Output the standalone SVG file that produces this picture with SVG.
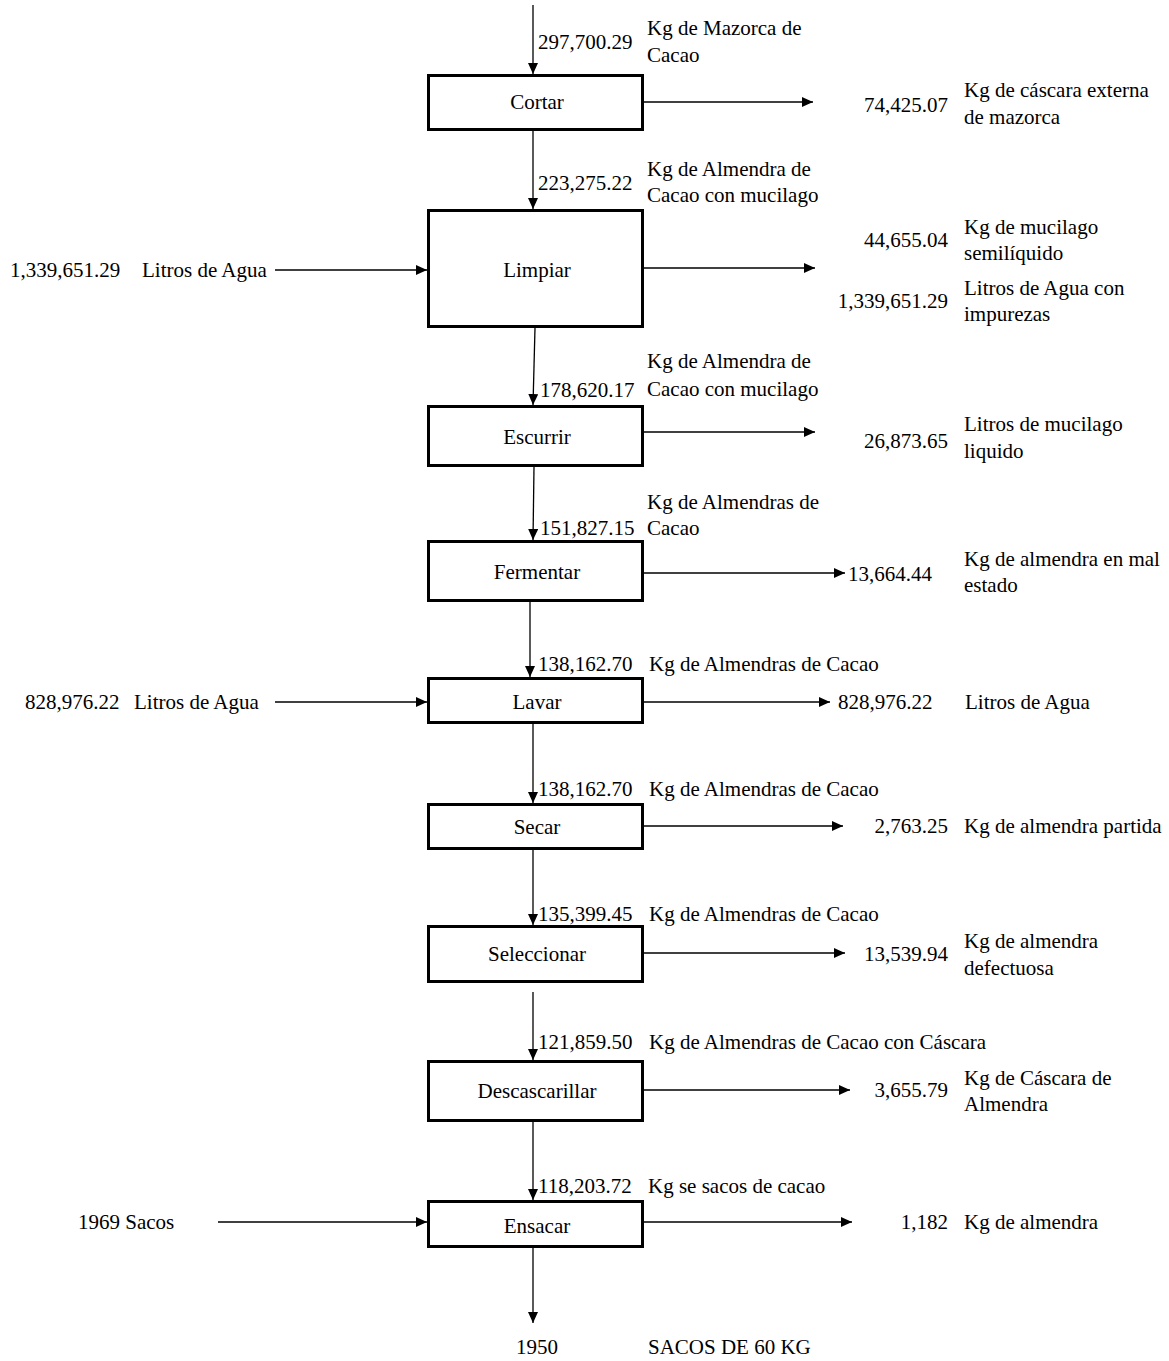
<svg xmlns="http://www.w3.org/2000/svg" width="1169" height="1361" viewBox="0 0 1169 1361">
<defs>
<marker id="ah" markerUnits="userSpaceOnUse" markerWidth="12" markerHeight="11" refX="11" refY="5" orient="auto">
<path d="M0,0 L11,5 L0,10 z" fill="#000"/>
</marker>
<style>
text{font-family:"Liberation Serif","Times New Roman",serif;font-size:21px;fill:#000}
.box{fill:#fff;stroke:#000;stroke-width:3}
.c{stroke:#000;stroke-width:1.3;fill:none;marker-end:url(#ah)}
.m{text-anchor:middle}
.e{text-anchor:end}
</style>
</defs>
<rect width="1169" height="1361" fill="#fff"/>
<g id="connectors">
<line class="c" x1="533" y1="5" x2="533" y2="74"/>
<line class="c" x1="644" y1="102" x2="813" y2="102"/>
<line class="c" x1="533" y1="131" x2="533" y2="209"/>
<line class="c" x1="275" y1="270" x2="427" y2="270"/>
<line class="c" x1="644" y1="268" x2="815" y2="268"/>
<line class="c" x1="535" y1="328" x2="533" y2="405"/>
<line class="c" x1="644" y1="432" x2="815" y2="432"/>
<line class="c" x1="534" y1="467" x2="533" y2="540"/>
<line class="c" x1="644" y1="573" x2="845" y2="573"/>
<line class="c" x1="530" y1="602" x2="530" y2="677"/>
<line class="c" x1="275" y1="702" x2="427" y2="702"/>
<line class="c" x1="644" y1="702" x2="830" y2="702"/>
<line class="c" x1="533" y1="724" x2="533" y2="803"/>
<line class="c" x1="644" y1="826" x2="843" y2="826"/>
<line class="c" x1="533" y1="850" x2="533" y2="925"/>
<line class="c" x1="644" y1="953" x2="845" y2="953"/>
<line class="c" x1="533" y1="992" x2="533" y2="1060"/>
<line class="c" x1="644" y1="1090" x2="850" y2="1090"/>
<line class="c" x1="533" y1="1122" x2="533" y2="1200"/>
<line class="c" x1="218" y1="1222" x2="427" y2="1222"/>
<line class="c" x1="644" y1="1222" x2="852" y2="1222"/>
<line class="c" x1="533" y1="1248" x2="533" y2="1323"/>
</g>
<g id="labels">
<text x="538" y="49">297,700.29</text>
<text x="647" y="35">Kg de Mazorca de</text>
<text x="647" y="62">Cacao</text>
<text class="e" x="948" y="112">74,425.07</text>
<text x="964" y="97">Kg de cáscara externa</text>
<text x="964" y="124">de mazorca</text>
<text x="538" y="190">223,275.22</text>
<text x="647" y="176">Kg de Almendra de</text>
<text x="647" y="202">Cacao con mucilago</text>
<text x="10" y="277">1,339,651.29</text>
<text x="142" y="277">Litros de Agua</text>
<text class="e" x="948" y="247">44,655.04</text>
<text x="964" y="234">Kg de mucilago</text>
<text x="964" y="260">semilíquido</text>
<text class="e" x="948" y="308">1,339,651.29</text>
<text x="964" y="295">Litros de Agua con</text>
<text x="964" y="321">impurezas</text>
<text x="647" y="368">Kg de Almendra de</text>
<text x="540" y="397">178,620.17</text>
<text x="647" y="396">Cacao con mucilago</text>
<text class="e" x="948" y="448">26,873.65</text>
<text x="964" y="431">Litros de mucilago</text>
<text x="964" y="458">liquido</text>
<text x="647" y="509">Kg de Almendras de</text>
<text x="540" y="535">151,827.15</text>
<text x="647" y="535">Cacao</text>
<text x="848" y="581">13,664.44</text>
<text x="964" y="566">Kg de almendra en mal</text>
<text x="964" y="592">estado</text>
<text x="538" y="671">138,162.70</text>
<text x="649" y="671">Kg de Almendras de Cacao</text>
<text x="25" y="709">828,976.22</text>
<text x="134" y="709">Litros de Agua</text>
<text x="838" y="709">828,976.22</text>
<text x="965" y="709">Litros de Agua</text>
<text x="538" y="796">138,162.70</text>
<text x="649" y="796">Kg de Almendras de Cacao</text>
<text class="e" x="948" y="833">2,763.25</text>
<text x="964" y="833">Kg de almendra partida</text>
<text x="538" y="921">135,399.45</text>
<text x="649" y="921">Kg de Almendras de Cacao</text>
<text class="e" x="948" y="961">13,539.94</text>
<text x="964" y="948">Kg de almendra</text>
<text x="964" y="975">defectuosa</text>
<text x="538" y="1049">121,859.50</text>
<text x="649" y="1049">Kg de Almendras de Cacao con Cáscara</text>
<text class="e" x="948" y="1097">3,655.79</text>
<text x="964" y="1085">Kg de Cáscara de</text>
<text x="964" y="1111">Almendra</text>
<text x="538" y="1193">118,203.72</text>
<text x="648" y="1193">Kg se sacos de cacao</text>
<text x="78" y="1229">1969 Sacos</text>
<text class="e" x="948" y="1229">1,182</text>
<text x="964" y="1229">Kg de almendra</text>
<text class="m" x="537" y="1354">1950</text>
<text x="648" y="1354">SACOS DE 60 KG</text>
</g>
<g id="cortar"><rect class="box" x="428.5" y="75.5" width="214" height="54"/><text class="m" x="537" y="109">Cortar</text></g>
<g id="limpiar"><rect class="box" x="428.5" y="210.5" width="214" height="116"/><text class="m" x="537" y="277">Limpiar</text></g>
<g id="escurrir"><rect class="box" x="428.5" y="406.5" width="214" height="59"/><text class="m" x="537" y="444">Escurrir</text></g>
<g id="fermentar"><rect class="box" x="428.5" y="541.5" width="214" height="59"/><text class="m" x="537" y="579">Fermentar</text></g>
<g id="lavar"><rect class="box" x="428.5" y="678.5" width="214" height="44"/><text class="m" x="537" y="709">Lavar</text></g>
<g id="secar"><rect class="box" x="428.5" y="804.5" width="214" height="44"/><text class="m" x="537" y="834">Secar</text></g>
<g id="seleccionar"><rect class="box" x="428.5" y="926.5" width="214" height="55"/><text class="m" x="537" y="961">Seleccionar</text></g>
<g id="descascarillar"><rect class="box" x="428.5" y="1061.5" width="214" height="59"/><text class="m" x="537" y="1098">Descascarillar</text></g>
<g id="ensacar"><rect class="box" x="428.5" y="1201.5" width="214" height="45"/><text class="m" x="537" y="1233">Ensacar</text></g>
</svg>
